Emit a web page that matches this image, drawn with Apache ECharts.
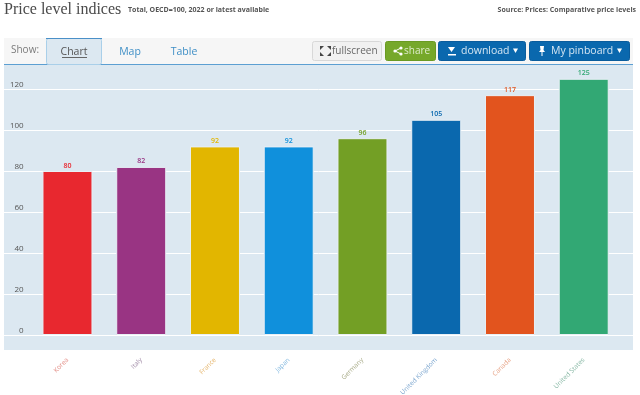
<!DOCTYPE html>
<html>
<head>
<meta charset="utf-8">
<title>Price level indices</title>
<script src="https://cdn.jsdelivr.net/npm/echarts@6/dist/echarts.min.js"></script>
<style>
  html, body { margin: 0; padding: 0; background: #fff; }
  #chart { width: 640px; height: 395px; }
</style>
</head>
<body>
<div id="chart"></div>
<script>
const categories = ['Korea', 'Italy', 'France', 'Japan', 'Germany', 'United Kingdom', 'Canada', 'United States']
const values = [80, 82, 92, 92, 96, 105, 117, 125]
const barColors = ['#e8282f', '#993483', '#e2b600', '#1090dc', '#739f25', '#0a68ae', '#e2541e', '#32a874']
const labelColors = ['#e28a82', '#9c85a2', '#e5b46a', '#7db5de', '#a5a884', '#7fa8d0', '#e69f80', '#88b8a5']

const UI_FONT = '"Open Sans", "DejaVu Sans", sans-serif'

// toolbar above the plot is just page furniture
function rect(x, y, w, h, fill, stroke, r) {
  return { type: 'rect', silent: true, shape: { x, y, width: w, height: h, r: r || 0 }, style: { fill, stroke: stroke || null, lineWidth: 1 } }
}
function text(x, y, str, size, color, extra) {
  return { type: 'text', silent: true, x, y, style: Object.assign({ text: str, font: `${size}px ${UI_FONT}`, fill: color, textVerticalAlign: 'middle' }, extra || {}) }
}
function poly(points, fill) {
  return { type: 'polygon', silent: true, shape: { points }, style: { fill } }
}

const furniture = [
  rect(4, 65, 629, 285, '#dce8f1'),
  rect(4, 38, 629, 26, '#f6f6f6'),
  rect(4, 64, 629, 1, '#5c9fd2'),
  rect(46.5, 38.5, 55, 26, '#dce8f1', '#a9cfe9', 2),
  rect(46, 38, 56, 1, '#4a90c8'),

  text(4, 9.5, 'Price level indices', 16, '#4a4a4a', { font: '16px "Liberation Serif", serif' }),
  text(128, 10, 'Total, OECD=100, 2022 or latest available', 7, '#555', { font: `bold 7px ${UI_FONT}` }),
  text(636, 10, 'Source: Prices: Comparative price levels', 7, '#555', { font: `bold 7px ${UI_FONT}`, textAlign: 'right' }),

  text(11, 50, 'Show:', 10, '#7b7b7b'),
  text(74, 52, 'Chart', 10.5, '#555', { textAlign: 'center' }),
  rect(62, 57, 25, 1, '#666'),
  text(130, 52, 'Map', 10.5, '#3f8fc6', { textAlign: 'center' }),
  text(184, 52, 'Table', 10.5, '#3f8fc6', { textAlign: 'center' }),

  rect(312.5, 41.5, 69, 19, '#f1f1f1', '#d8d8d8', 2),
  poly([[320, 46], [324, 46], [320, 50]], '#444'),
  poly([[331, 46], [327, 46], [331, 50]], '#444'),
  poly([[320, 56], [324, 56], [320, 52]], '#444'),
  poly([[331, 56], [327, 56], [331, 52]], '#444'),
  text(332, 51, 'fullscreen', 10, '#666'),

  rect(385.5, 41.5, 50, 19, '#76a82a', '#6a9a22', 2),
  { type: 'circle', silent: true, shape: { cx: 395, cy: 51, r: 1.6 }, style: { fill: '#fff' } },
  { type: 'circle', silent: true, shape: { cx: 401, cy: 48, r: 1.6 }, style: { fill: '#fff' } },
  { type: 'circle', silent: true, shape: { cx: 401, cy: 54, r: 1.6 }, style: { fill: '#fff' } },
  { type: 'polyline', silent: true, shape: { points: [[401, 48], [395, 51], [401, 54]] }, style: { stroke: '#fff', lineWidth: 1, fill: null } },
  text(404, 51, 'share', 10, '#dfeccb'),

  rect(438.5, 41.5, 87, 19, '#0a68ae', '#0a5c9c', 2),
  poly([[448, 47], [455, 47], [451.5, 52]], '#fff'),
  rect(448, 54, 8, 1.5, '#fff'),
  text(461, 51, 'download', 10.5, '#d5e6f3'),
  poly([[513, 48.5], [518, 48.5], [515.5, 53]], '#fff'),

  rect(529.5, 41.5, 100, 19, '#0a68ae', '#0a5c9c', 2),
  poly([[540, 46], [544, 46], [543.5, 50], [545, 52], [539, 52], [540.5, 50]], '#fff'),
  rect(541.5, 52, 1, 4, '#fff'),
  text(551, 51, 'My pinboard', 10.5, '#d5e6f3'),
  poly([[617, 48.5], [622, 48.5], [619.5, 53]], '#fff')
]

const option = {
  animation: false,
  backgroundColor: '#fff',
  graphic: { elements: furniture },
  grid: [
    // full-width grid only carries the white lines, same scale as the bars
    { left: 4, width: 629, top: 68.5, height: 266.5, outerBoundsMode: 'none' },
    { left: 30.6, width: 590, top: 68.5, height: 266.5, outerBoundsMode: 'none' }
  ],
  xAxis: [
    { gridIndex: 0, type: 'category', data: [''], show: false },
    {
      gridIndex: 1,
      type: 'category',
      data: categories,
      axisLine: { show: false },
      axisTick: { show: false },
      axisLabel: {
        interval: 0,
        rotate: 45,
        margin: 24,
        padding: [3, 0, 0, 0],
        fontSize: 6.5,
        fontFamily: UI_FONT,
        color: (val, idx) => labelColors[idx]
      }
    }
  ],
  yAxis: [
    {
      gridIndex: 0,
      type: 'value',
      min: 0,
      max: 130,
      interval: 20,
      axisLine: { show: false },
      axisTick: { show: false },
      axisLabel: { show: false },
      splitLine: { showMaxLine: false, lineStyle: { color: '#fff', width: 1 } }
    },
    {
      gridIndex: 1,
      type: 'value',
      min: 0,
      max: 130,
      interval: 20,
      axisLine: { show: false },
      axisTick: { show: false },
      splitLine: { show: false },
      axisLabel: {
        showMaxLabel: false,
        margin: 7,
        align: 'right',
        verticalAlign: 'bottom',
        fontSize: 8,
        fontFamily: UI_FONT,
        color: '#555'
      }
    }
  ],
  series: [{
    type: 'bar',
    xAxisIndex: 1,
    yAxisIndex: 1,
    barWidth: 50,
    data: values.map((v, i) => ({
      value: v,
      itemStyle: { color: barColors[i], borderColor: '#e8eff5', borderWidth: 1 },
      label: { color: barColors[i] }
    })),
    label: {
      show: true,
      position: 'top',
      distance: 2,
      fontSize: 7,
      fontWeight: 600,
      fontFamily: UI_FONT
    }
  }]
}

const chart = echarts.init(document.getElementById('chart'), null, { renderer: 'canvas' })
chart.setOption(option)
window.addEventListener('resize', () => chart.resize())
</script>
</body>
</html>
